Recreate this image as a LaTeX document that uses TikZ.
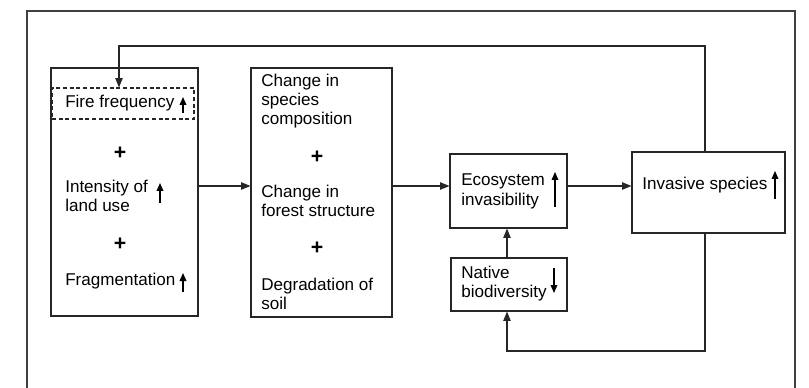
\documentclass[tikz,border=0pt]{standalone}
\usepackage{fontspec}
\setmainfont{Liberation Sans}
\usetikzlibrary{arrows.meta}

\tikzset{
  box/.style={draw=black!85, line width=0.8pt, inner sep=0pt},
  dashbox/.style={box, dashed, dash pattern=on 3pt off 2pt},
  txt/.style={anchor=base west, inner sep=0pt, align=left},
  plus/.style={inner sep=0pt, font=\fontsize{16}{18}\selectfont\bfseries},
  flow/.style={draw=black!85, line width=0.8pt, -{Triangle[length=7pt,width=5.5pt]}},
  trend/.style={draw=black, line width=0.9pt, -{Triangle[length=6pt,width=5pt]}},
  frame/.style={draw=black!75, line width=0.8pt}
}

\begin{document}
\begin{tikzpicture}[x=0.75pt, y=-0.75pt, font=\fontsize{12.8}{14.25}\selectfont]

				\useasboundingbox (0,0) rectangle (809,388);
				\draw[frame] (27,388) |- (795,11) -- (795,388);

				% boxes
				\node[box, minimum width=147*0.75pt, minimum height=248*0.75pt] (drivers) at (124.5,192) {};
				\node[dashbox, minimum width=142*0.75pt, minimum height=31*0.75pt] (fire) at (123,103.5) {};
				\node[box, minimum width=141*0.75pt, minimum height=249*0.75pt] (changes) at (321.5,192.5) {};
				\node[box, minimum width=117*0.75pt, minimum height=74*0.75pt] (eco) at (508.5,191) {};
				\node[box, minimum width=153*0.75pt, minimum height=81*0.75pt] (inv) at (708.5,192.5) {};
				\node[box, minimum width=116*0.75pt, minimum height=53*0.75pt] (native) at (509,284.5) {};

				% texts (base = last line)
				\node[txt] (firetxt) at (65,108) {Fire frequency};
				\node[plus] (plusa) at (120,153) {+};
				\node[txt] (intens) at (65,212) {Intensity of\\land use};
				\node[plus] (plusb) at (120,244) {+};
				\node[txt] (frag) at (65,285) {Fragmentation};

				\node[txt] (species) at (261,125) {Change in\\species\\composition};
				\node[plus] (plusc) at (317,157) {+};
				\node[txt] (forest) at (261,217) {Change in\\forest structure};
				\node[plus] (plusd) at (317,248) {+};
				\node[txt] (soil) at (261,309) {Degradation of\\soil};

				\node[txt] (ecotxt) at (461,205) {Ecosystem\\invasibility};
				\node[txt] (invtxt) at (642,190) {Invasive species};
				\node[txt] (nattxt) at (461,297) {Native\\biodiversity};

				% up and down marks
				\draw[trend] (183,113) -- (183,97);
				\draw[trend] (160,203) -- (160,183);
				\draw[trend] (183,292) -- (183,273);
				\draw[trend] (555,207) -- (555,172);
				\draw[trend] (775,199) -- (775,171);
				\draw[trend] (554,268) -- (554,293);

				% connectors
				\coordinate (row) at (0,186);
				\coordinate (top) at (0,46);
				\coordinate (bottom) at (0,351);
				\coordinate (loop) at (705,0);
				\coordinate (entry) at (119,0);

				\draw[flow] (drivers.east |- row) -- (changes.west |- row);
				\draw[flow] (changes.east |- row) -- (eco.west |- row);
				\draw[flow] (eco.east |- row) -- (inv.west |- row);
				\draw[flow] (native.north -| 507,0) -- (eco.south -| 507,0);
				\draw[flow] (inv.north -| loop) -- (top -| loop) -- (top -| entry) -- (fire.north -| entry);
				\draw[flow] (inv.south -| loop) -- (bottom -| loop) -- (bottom -| 507,0) -- (native.south -| 507,0);

				\end{tikzpicture}
\end{document}
